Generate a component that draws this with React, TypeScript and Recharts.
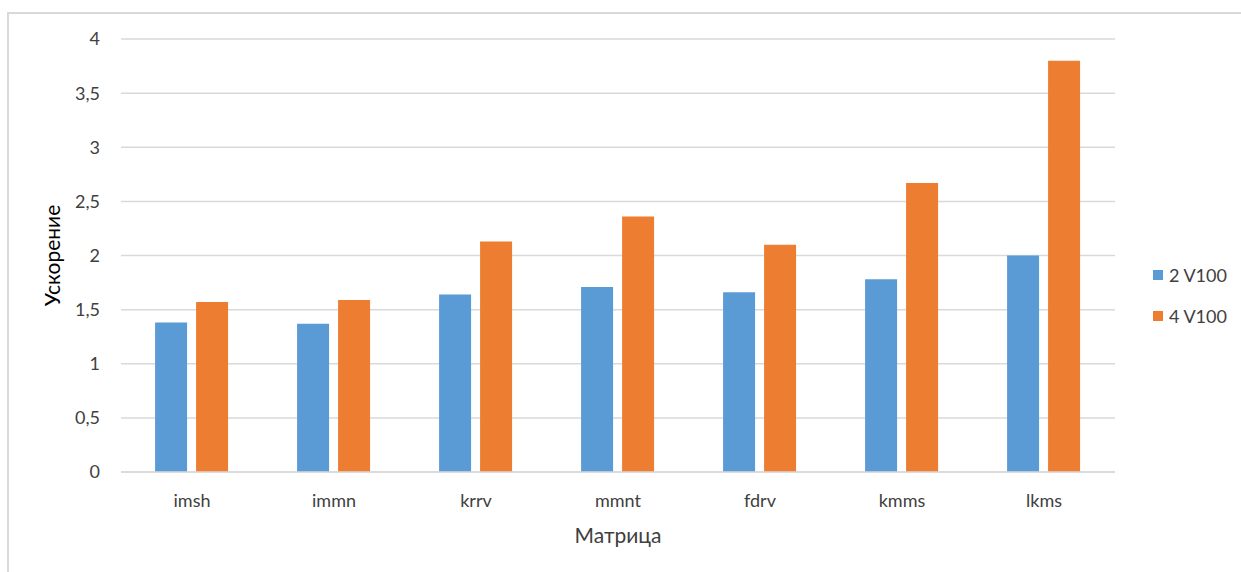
import React from 'react';
import { BarChart, Bar, XAxis, YAxis, CartesianGrid, Legend } from 'recharts';

const categories = ['imsh', 'immn', 'krrv', 'mmnt', 'fdrv', 'kmms', 'lkms'];
const series2V100 = [1.38, 1.37, 1.64, 1.71, 1.66, 1.78, 2.0];
const series4V100 = [1.57, 1.59, 2.13, 2.36, 2.1, 2.67, 3.8];
const yTicks = [0, 0.5, 1, 1.5, 2, 2.5, 3, 3.5, 4];
const seriesNames = ['2 V100', '4 V100'];

const data = categories.map((c, i) => ({
  name: c,
  s2: series2V100[i],
  s4: series4V100[i],
}));

const FONT = 'Lato, "Open Sans", sans-serif';
const TEXT = '#404040';

const fmt = (v: number) => String(v).replace('.', ',');

const LegendContent = (props: any) => {
  const { payload } = props;
  return (
    <div style={{ fontFamily: FONT, fontSize: 18, color: TEXT }}>
      {(payload || []).map((e: any, i: number) => (
        <div
          key={i}
          style={{ display: 'flex', alignItems: 'center', height: 30, marginBottom: 11 }}
        >
          <span style={{ display: 'inline-block', width: 10, height: 10, background: e.color, marginRight: 6 }} />
          <span>{e.value}</span>
        </div>
      ))}
    </div>
  );
};

export default function App() {
  return (
    <div style={{ position: 'absolute', left: 0, top: 0, width: 1241, height: 572, background: '#fff' }}>
      <div
        style={{
          position: 'absolute',
          left: 7,
          top: 12,
          width: 1234,
          height: 560,
          borderTop: '2px solid #d9d9d9',
          borderLeft: '2px solid #d9d9d9',
          boxSizing: 'border-box',
        }}
      />
      <div style={{ position: 'absolute', left: 0, top: 0 }}>
        <BarChart
          width={1241}
          height={572}
          data={data}
          margin={{ top: 39, right: 126, bottom: 0, left: 51 }}
          barCategoryGap="24%"
          barGap={9}
        >
          <CartesianGrid vertical={false} stroke="#d9d9d9" strokeWidth={1.5} />
          <XAxis
            dataKey="name"
            height={100}
            axisLine={{ stroke: '#d9d9d9', strokeWidth: 1.5 }}
            tickLine={false}
            tickSize={0}
            tickMargin={22}
            tick={{ fill: TEXT, fontSize: 18, fontFamily: FONT }}
            label={{
              value: 'Матрица',
              position: 'insideBottom',
              offset: 29,
              fill: TEXT,
              fontSize: 21,
              fontFamily: FONT,
            }}
          />
          <YAxis
            width={70}
            domain={[0, 4]}
            ticks={yTicks}
            axisLine={false}
            tickLine={false}
            tickSize={0}
            tickMargin={21}
            tickFormatter={fmt}
            tick={{ fill: TEXT, fontSize: 18, fontFamily: FONT }}
            label={{
              value: 'Ускорение',
              angle: -90,
              position: 'insideLeft',
              offset: 2,
              fill: '#000',
              fontSize: 21,
              fontFamily: FONT,
              style: { textAnchor: 'middle' },
            }}
          />
          <Legend
            layout="vertical"
            align="center"
            verticalAlign="middle"
            content={<LegendContent />}
            wrapperStyle={{ left: 1153, top: 260, right: 'auto', bottom: 'auto', width: 90 }}
          />
          <Bar dataKey="s2" name={seriesNames[0]} fill="#5B9BD5" isAnimationActive={false} />
          <Bar dataKey="s4" name={seriesNames[1]} fill="#ED7D31" isAnimationActive={false} />
        </BarChart>
      </div>
    </div>
  );
}
